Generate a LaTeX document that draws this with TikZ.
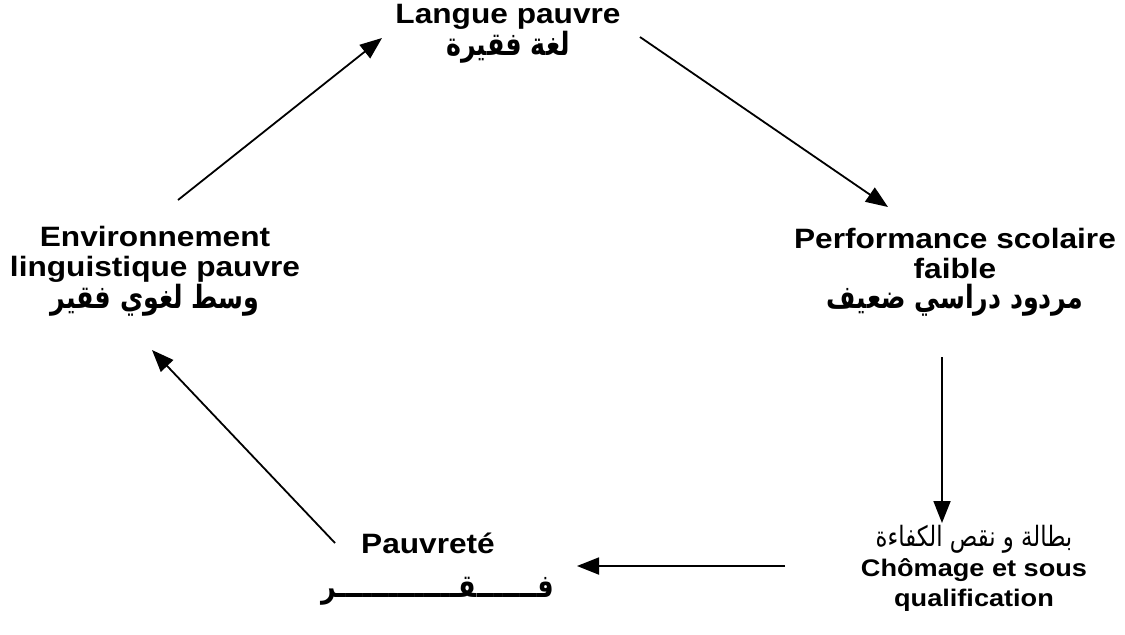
\documentclass[tikz,border=0pt]{standalone}
\usepackage{graphicx}
\usepackage{fontspec}
\setmainfont{Liberation Sans}
\newfontfamily\arabicfont[Script=Arabic]{DejaVu Sans}
\TeXXeTstate=1
\usetikzlibrary{arrows.meta}
\newcommand{\artxt}[4]{{\arabicfont#1\fontsize{#2}{15}\selectfont\scalebox{#3}[1]{#4}}}
\begin{document}
\begin{tikzpicture}[x=0.5pt,y=-0.5pt,
  txt/.style={font=\bfseries\fontsize{14}{15}\selectfont, align=center, inner sep=0pt, anchor=north, xscale=1.13, transform shape},
  small/.style={font=\bfseries\fontsize{12}{15}\selectfont},
  arr/.style={line width=0.9pt, -{Triangle[length=11pt,width=8.5pt]}}]
\useasboundingbox (0,0) rectangle (1125,634);
\node[txt] (langue) at (508,4) {Langue pauvre\\\artxt{}{16}{0.70}{\beginR لغة فقيرة\endR}};
\node[txt] (env) at (155,226) {Environnement\\linguistique pauvre\\\artxt{}{16}{0.70}{\beginR وسط لغوي فقير\endR}};
\node[txt] (perf) at (955,228) {Performance scolaire\\faible\\\artxt{}{16}{0.70}{\beginR مردود دراسي ضعيف\endR}};
\node[txt, small] (chom) at (974,525) {\artxt{\mdseries}{14}{0.72}{\beginR بطالة و نقص الكفاءة\endR}\\Chômage et sous\\qualification};
\node[txt] (pauv) at (428,533) {Pauvreté};
\node[txt, anchor=base] (pauvar) at (438,597) {\artxt{}{16}{0.70}{\beginR فـــــــقــــــــــــــر\endR}};
\draw[arr] ([shift={(23,-26)}]env.north) -- ([shift={(-126,34)}]langue.north);
\draw[arr] ([shift={(132,33)}]langue.north) -- ([shift={(-67,-21)}]perf.north);
\draw[arr] ([shift={(-13,129)}]perf.north) -- ([shift={(-32,-2)}]chom.north);
\draw[arr] ([shift={(-189,41)}]chom.north) -- ([shift={(149,33)}]pauv.north);
\draw[arr] ([shift={(-93,10)}]pauv.north) -- ([shift={(-3,124)}]env.north);
\end{tikzpicture}
\end{document}
